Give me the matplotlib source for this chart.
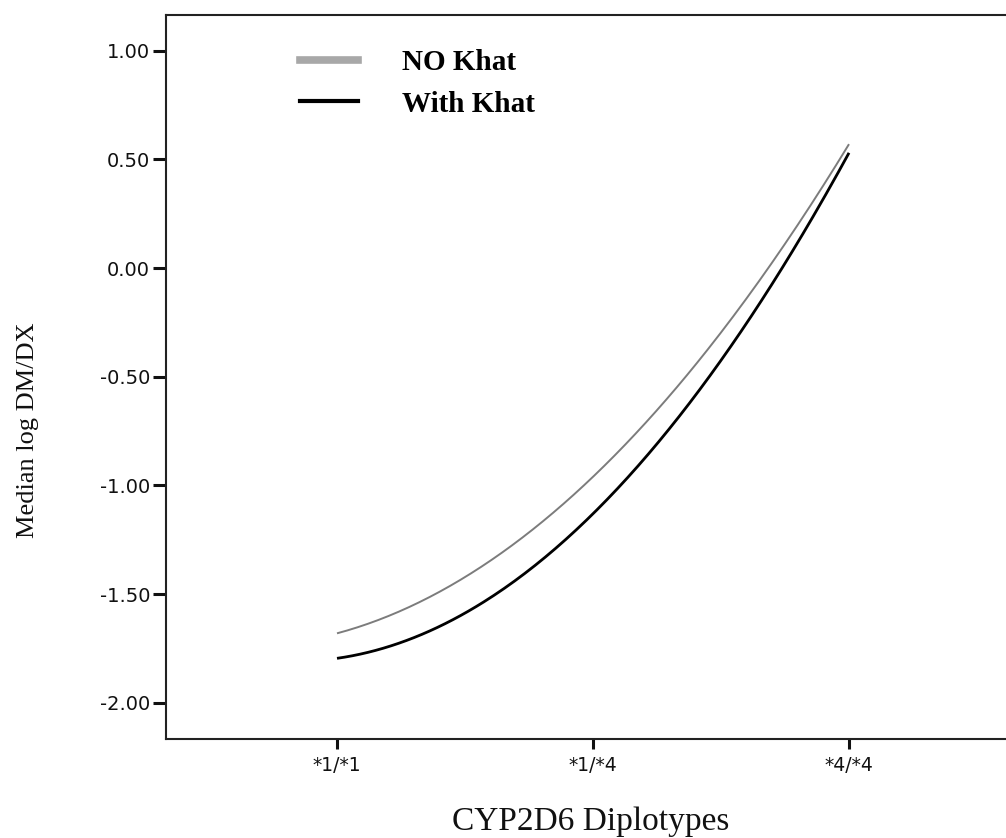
import numpy as np
import matplotlib
matplotlib.use("Agg")
import matplotlib.pyplot as plt
from matplotlib.lines import Line2D

# ---- data ----
categories = ["*1/*1", "*1/*4", "*4/*4"]
no_khat = [-1.68, -0.96, 0.57]
with_khat = [-1.795, -1.13, 0.53]
series_labels = ["NO Khat", "With Khat"]
yticks = [1.00, 0.50, 0.00, -0.50, -1.00, -1.50, -2.00]
xlabel = "CYP2D6 Diplotypes"
ylabel = "Median log DM/DX"

W, H = 1006, 838
fig = plt.figure(figsize=(W / 100, H / 100), dpi=100)

def fx(px):
    return px / W

def fy(py):
    return 1 - py / H

ax = fig.add_axes([fx(166), fy(739), fx(1020) - fx(166), fy(15) - fy(739)])

x = np.arange(len(categories))


def smooth(vals):
    # smooth quadratic curve through the plotted points (rendering only)
    c = np.polyfit(x, vals, 2)
    xs = np.linspace(x[0], x[-1], 200)
    return xs, np.polyval(c, xs)


xs, ys = smooth(no_khat)
ax.plot(xs, ys, color="#7c7c7c", lw=1.4, solid_capstyle="butt")
xs, ys = smooth(with_khat)
ax.plot(xs, ys, color="#000000", lw=2.0, solid_capstyle="butt")

ax.set_xlim(-0.668, 2.668)
ax.set_ylim(-2.166, 1.164)
ax.set_xticks(x)
ax.set_xticklabels(categories)
ax.set_yticks(yticks)
ax.set_yticklabels([f"{v:.2f}" for v in yticks])

for s in ["left", "bottom", "top", "right"]:
    ax.spines[s].set_linewidth(1.5)
    ax.spines[s].set_color("#222222")

ax.tick_params(axis="y", direction="out", length=9.5, width=2.2, pad=2,
               labelsize=14, colors="#111111")
ax.tick_params(axis="x", direction="out", length=7.5, width=2.2, pad=5,
               labelsize=13.5, colors="#111111")
for lab in ax.get_xticklabels() + ax.get_yticklabels():
    lab.set_family("DejaVu Sans")

fig.text(fx(591), fy(822), xlabel, family="Liberation Serif", fontsize=24,
         ha="center", va="center", color="#111111")
fig.text(fx(28), fy(430), ylabel, family="Liberation Serif", fontsize=19,
         ha="center", va="center", rotation=90, color="#111111")

handles = [Line2D([], [], color="#a8a8a8", lw=5.5),
           Line2D([], [], color="#000000", lw=3.0)]
leg = ax.legend(handles, series_labels, loc="upper left",
                bbox_to_anchor=(fx(300), fy(49)), bbox_transform=fig.transFigure,
                frameon=False, handlelength=2.0, handletextpad=1.5,
                labelspacing=0.5, borderpad=0, borderaxespad=0,
                prop={"family": "Liberation Serif", "weight": "bold", "size": 21})

fig.savefig("out.png", dpi=100)
